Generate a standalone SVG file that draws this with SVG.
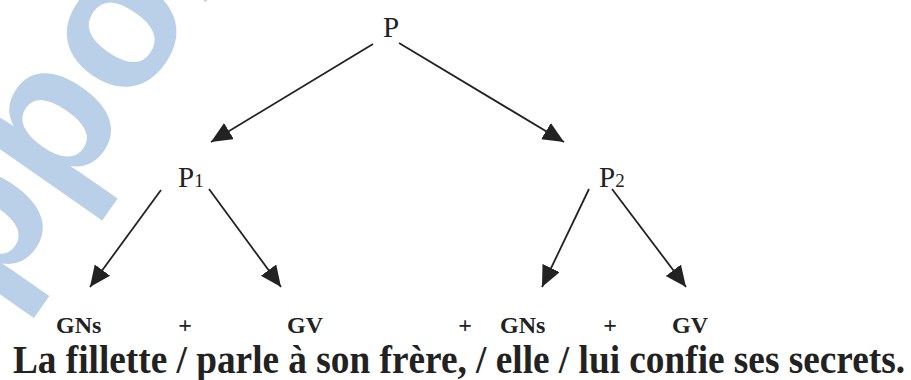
<svg xmlns="http://www.w3.org/2000/svg" width="911" height="380" viewBox="0 0 911 380">
<style>
.n{font-family:"Liberation Serif","Times New Roman",serif;font-size:29px;fill:#222}
.sub{font-size:19px}
.lb{font-family:"Liberation Serif","Times New Roman",serif;font-size:24px;font-weight:bold;fill:#222}
.sent{font-family:"Liberation Serif","Times New Roman",serif;font-size:41px;font-weight:bold;fill:#222}
.wm{font-family:"Liberation Sans",Arial,sans-serif;font-size:195px;font-weight:bold;fill:#b9d0e8}
.e{stroke:#222;stroke-width:1.8;fill:none;marker-end:url(#ah)}
</style>
<defs>
<marker id="ah" markerUnits="userSpaceOnUse" markerWidth="22" markerHeight="20" refX="21" refY="9.5" orient="auto">
<path d="M0,0 L21,9.5 L0,19 z" fill="#222"/>
</marker>
</defs>
<rect width="911" height="380" fill="#fff"/>
<g id="watermark">
<text class="wm" x="-7" y="306" transform="rotate(-55 -7 306)">ppor</text>
</g>
<g id="connectors">
<line class="e" x1="373" y1="44" x2="211" y2="142"/>
<line class="e" x1="399" y1="43" x2="564" y2="142"/>
<line class="e" x1="161" y1="190" x2="90" y2="287"/>
<line class="e" x1="209" y1="189" x2="281" y2="287"/>
<line class="e" x1="589" y1="189" x2="542" y2="287"/>
<line class="e" x1="612" y1="189" x2="686" y2="287"/>
</g>
<g id="node-P"><text class="n" x="391" y="37" text-anchor="middle">P</text></g>
<g id="node-P1"><text class="n" x="178" y="187">P<tspan class="sub">1</tspan></text></g>
<g id="node-P2"><text class="n" x="599" y="187">P<tspan class="sub">2</tspan></text></g>
<g id="node-GNs1"><text class="lb" x="56" y="333">GNs</text></g>
<g id="plus1"><text class="lb" x="185" y="333" text-anchor="middle">+</text></g>
<g id="node-GV1"><text class="lb" x="287" y="333">GV</text></g>
<g id="plus2"><text class="lb" x="465" y="333" text-anchor="middle">+</text></g>
<g id="node-GNs2"><text class="lb" x="500" y="333">GNs</text></g>
<g id="plus3"><text class="lb" x="610" y="333" text-anchor="middle">+</text></g>
<g id="node-GV2"><text class="lb" x="672" y="333">GV</text></g>
<g id="sentence"><text class="sent" x="13" y="373" textLength="892" lengthAdjust="spacingAndGlyphs">La fillette / parle à son frère, / elle / lui confie ses secrets.</text></g>
</svg>
